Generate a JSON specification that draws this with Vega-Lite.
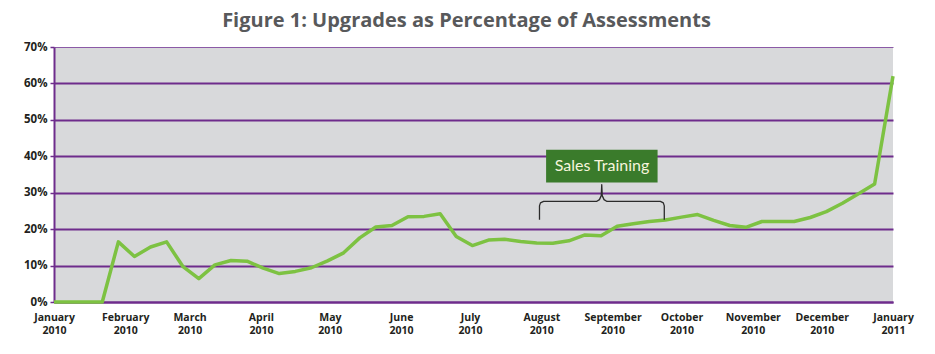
{
  "$schema": "https://vega.github.io/schema/vega-lite/v6.json",
  "width": 839,
  "height": 255,
  "autosize": {"type": "none"},
  "padding": {"left": 54, "top": 47, "right": 42, "bottom": 52},
  "background": "white",
  "title": {
    "text": "Figure 1: Upgrades as Percentage of Assessments",
    "font": "Open Sans",
    "fontSize": 20,
    "fontWeight": "bold",
    "color": "#58595b",
    "anchor": "middle",
    "frame": "group",
    "baseline": "alphabetic",
    "offset": -6,
    "dx": -7
  },
  "config": {
    "view": {"fill": "#d8d9db", "stroke": null},
    "axis": {"labelFont": "Open Sans", "labelFontWeight": "bold", "labelFontSize": 10.5, "labelColor": "#231f20"}
  },
  "datasets": {
    "series": [
      {"week": "2010-01-01T00:00", "pct": 0},
      {"week": "2010-01-08T00:00", "pct": 0},
      {"week": "2010-01-15T00:00", "pct": 0},
      {"week": "2010-01-22T00:00", "pct": 0},
      {"week": "2010-01-29T00:00", "pct": 16.5},
      {"week": "2010-02-05T00:00", "pct": 12.5},
      {"week": "2010-02-12T00:00", "pct": 15.1},
      {"week": "2010-02-19T00:00", "pct": 16.5},
      {"week": "2010-02-26T00:00", "pct": 9.8},
      {"week": "2010-03-05T00:00", "pct": 6.4},
      {"week": "2010-03-12T00:00", "pct": 10.2},
      {"week": "2010-03-19T00:00", "pct": 11.4},
      {"week": "2010-03-26T00:00", "pct": 11.2},
      {"week": "2010-04-02T00:00", "pct": 9.3},
      {"week": "2010-04-09T00:00", "pct": 7.8},
      {"week": "2010-04-16T00:00", "pct": 8.4},
      {"week": "2010-04-23T00:00", "pct": 9.4},
      {"week": "2010-04-30T00:00", "pct": 11.3},
      {"week": "2010-05-07T00:00", "pct": 13.5},
      {"week": "2010-05-14T00:00", "pct": 17.6},
      {"week": "2010-05-21T00:00", "pct": 20.6},
      {"week": "2010-05-28T00:00", "pct": 21.0},
      {"week": "2010-06-04T00:00", "pct": 23.4},
      {"week": "2010-06-11T00:00", "pct": 23.5},
      {"week": "2010-06-18T00:00", "pct": 24.2},
      {"week": "2010-06-25T00:00", "pct": 18.0},
      {"week": "2010-07-02T00:00", "pct": 15.5},
      {"week": "2010-07-09T00:00", "pct": 17.0},
      {"week": "2010-07-16T00:00", "pct": 17.2},
      {"week": "2010-07-23T00:00", "pct": 16.6},
      {"week": "2010-07-30T00:00", "pct": 16.2},
      {"week": "2010-08-06T00:00", "pct": 16.1},
      {"week": "2010-08-13T00:00", "pct": 16.8},
      {"week": "2010-08-20T00:00", "pct": 18.4},
      {"week": "2010-08-27T00:00", "pct": 18.2},
      {"week": "2010-09-03T00:00", "pct": 20.8},
      {"week": "2010-09-10T00:00", "pct": 21.5},
      {"week": "2010-09-17T00:00", "pct": 22.1},
      {"week": "2010-09-24T00:00", "pct": 22.5},
      {"week": "2010-10-01T00:00", "pct": 23.3},
      {"week": "2010-10-08T00:00", "pct": 24.0},
      {"week": "2010-10-15T00:00", "pct": 22.4},
      {"week": "2010-10-22T00:00", "pct": 21.0},
      {"week": "2010-10-29T00:00", "pct": 20.5},
      {"week": "2010-11-05T00:00", "pct": 22.1},
      {"week": "2010-11-12T00:00", "pct": 22.1},
      {"week": "2010-11-19T00:00", "pct": 22.1},
      {"week": "2010-11-26T00:00", "pct": 23.2},
      {"week": "2010-12-03T00:00", "pct": 24.8},
      {"week": "2010-12-10T00:00", "pct": 27.1},
      {"week": "2010-12-17T00:00", "pct": 29.7},
      {"week": "2010-12-24T00:00", "pct": 32.4},
      {"week": "2011-01-01T00:00", "pct": 62.0}
    ],
    "box": [
      {"week": "2010-08-03T02:00", "week2": "2010-09-20T14:00", "pct": 41.8, "pct2": 32.8}
    ],
    "label": [
      {"week": "2010-08-27T10:00", "pct": 37.3, "label": "Sales Training"}
    ],
    "brace": [
      {"o": 1, "week": "2010-07-31T05:00", "pct": 22.6},
      {"o": 2, "week": "2010-07-31T05:00", "pct": 26.4},
      {"o": 3, "week": "2010-07-31T15:00", "pct": 27.2},
      {"o": 4, "week": "2010-08-02T00:00", "pct": 27.6},
      {"o": 5, "week": "2010-08-25T00:00", "pct": 27.6},
      {"o": 6, "week": "2010-08-26T07:00", "pct": 28.1},
      {"o": 7, "week": "2010-08-27T02:00", "pct": 29.2},
      {"o": 8, "week": "2010-08-27T07:00", "pct": 32.2},
      {"o": 9, "week": "2010-08-27T12:00", "pct": 29.2},
      {"o": 10, "week": "2010-08-28T07:00", "pct": 28.1},
      {"o": 11, "week": "2010-08-29T14:00", "pct": 27.6},
      {"o": 12, "week": "2010-09-21T19:00", "pct": 27.6},
      {"o": 13, "week": "2010-09-23T02:00", "pct": 27.2},
      {"o": 14, "week": "2010-09-23T12:00", "pct": 26.4},
      {"o": 15, "week": "2010-09-23T12:00", "pct": 22.6}
    ]
  },
  "encoding": {
    "x": {
      "field": "week", "type": "temporal",
      "scale": {"domain": [{"year": 2010, "month": 1, "date": 1}, {"year": 2011, "month": 1, "date": 1}]},
      "axis": {
        "title": null,
        "values": [
          {"year": 2010, "month": 1, "date": 1}, {"year": 2010, "month": 2, "date": 1},
          {"year": 2010, "month": 3, "date": 1}, {"year": 2010, "month": 4, "date": 1},
          {"year": 2010, "month": 5, "date": 1}, {"year": 2010, "month": 6, "date": 1},
          {"year": 2010, "month": 7, "date": 1}, {"year": 2010, "month": 8, "date": 1},
          {"year": 2010, "month": 9, "date": 1}, {"year": 2010, "month": 10, "date": 1},
          {"year": 2010, "month": 11, "date": 1}, {"year": 2010, "month": 12, "date": 1},
          {"year": 2011, "month": 1, "date": 1}
        ],
        "labelExpr": "[timeFormat(datum.value, '%B'), timeFormat(datum.value, '%Y')]",
        "labelLineHeight": 13,
        "labelBaseline": "top",
        "labelPadding": 10,
        "ticks": false,
        "tickSize": 0,
        "grid": false,
        "domain": true,
        "domainColor": "#6e2c8c",
        "domainWidth": 2,
        "labelOverlap": false,
        "labelFlush": false
      }
    },
    "y": {
      "field": "pct", "type": "quantitative",
      "scale": {"domain": [0, 70], "nice": false},
      "axis": {
        "title": null,
        "values": [0, 10, 20, 30, 40, 50, 60, 70],
        "tickCount": 8,
        "labelOverlap": false,
        "labelFontSize": 11.5,
        "labelExpr": "datum.value + '%'",
        "grid": true,
        "gridColor": {"condition": {"test": "datum.value >= 70", "value": "#8b5aa6"}, "value": "#6e2c8c"},
        "gridWidth": {"condition": {"test": "datum.value >= 70", "value": 1.2}, "value": 2},
        "gridOpacity": 1,
        "domain": true,
        "domainColor": "#6e2c8c",
        "domainWidth": 2,
        "ticks": true,
        "tickColor": "#6e2c8c",
        "tickWidth": 1.5,
        "tickSize": 4,
        "labelPadding": 3
      }
    }
  },
  "layer": [
    {
      "data": {"name": "series"},
      "mark": {"type": "line", "color": "#7dc242", "strokeWidth": 3.5, "strokeJoin": "round", "strokeCap": "butt"}
    },
    {
      "data": {"name": "brace"},
      "mark": {"type": "line", "color": "#2b2b2b", "strokeWidth": 1.3, "strokeJoin": "round"},
      "encoding": {
        "order": {"field": "o", "type": "quantitative"}
      }
    },
    {
      "data": {"name": "box"},
      "mark": {"type": "rect", "color": "#3a7b2b"},
      "encoding": {
        "x2": {"field": "week2"},
        "y2": {"field": "pct2"}
      }
    },
    {
      "data": {"name": "label"},
      "mark": {"type": "text", "color": "#f7f5dc", "font": "Lato", "fontSize": 16, "align": "center", "baseline": "middle"},
      "encoding": {
        "text": {"field": "label"}
      }
    }
  ]
}
